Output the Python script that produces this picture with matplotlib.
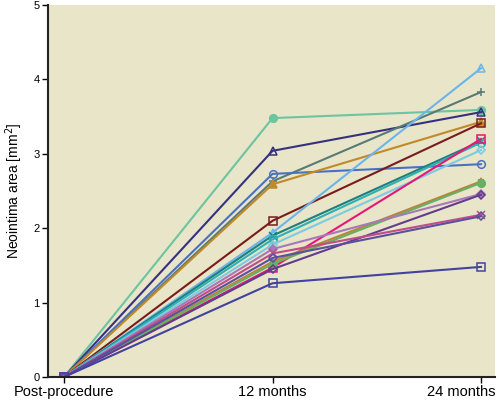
import matplotlib.pyplot as plt
from matplotlib import font_manager
from matplotlib.transforms import ScaledTranslation

# use a narrow face if one is there, else plain Liberation Sans
try:
    font_manager.findfont("Liberation Sans Narrow", fallback_to_default=False)
    plt.rcParams['font.family'] = ['Liberation Sans Narrow', 'DejaVu Sans']
    fs = 12
except ValueError:
    plt.rcParams['font.family'] = ['Liberation Sans', 'DejaVu Sans']
    fs = 10.5

timepoints = ["Post-procedure", "12 months", "24 months"]

# neointima area per patient: (post, 12 months, 24 months)
post = [0, 0, 0, 0, 0, 0, 0, 0, 0, 0, 0, 0, 0, 0, 0, 0, 0, 0]
month12 = [3.48, 3.04, 2.63, 2.73, 2.59, 2.10, 1.94, 1.90, 1.85, 1.78,
           1.47, 1.55, 1.52, 1.72, 1.45, 1.66, 1.60, 1.26]
month24 = [3.59, 3.56, 3.83, 2.86, 3.43, 3.41, 4.15, 3.17, 3.15, 3.05,
           3.20, 2.63, 2.61, 2.46, 2.45, 2.18, 2.16, 1.48]

colors = ["#6cc4a0", "#35307f", "#587a76", "#4a70c0", "#c08a28", "#781c1c",
          "#6ab6ea", "#1d7f80", "#2eb0b4", "#7ccbe2", "#e6177a", "#b8843c",
          "#66b064", "#a878b8", "#643c8c", "#c04c88", "#5a50a0", "#4242a0"]
markers = ["o", "^", "+", "o", "^", "s", "^", "x", "o", "D",
           "s", "*", "o", "D", "D", "x", "D", "s"]
filled = [True, False, True, False, True, False, False, True, False, False,
          False, True, True, True, False, True, False, False]

fig = plt.figure(figsize=(5.02, 4.01), dpi=100)
ax = fig.add_axes([48 / 502, 24 / 401, 447 / 502, 372 / 401])
ax.set_facecolor("#e9e5c9")

xs = range(len(timepoints))
for i in range(len(month12)):
    ys = [post[i], month12[i], month24[i]]
    ms = 5.5 if markers[i] not in ("D", "*") else 4.5
    ax.plot(xs, ys, color=colors[i], lw=1.5, marker=markers[i], ms=ms,
            mfc=colors[i] if filled[i] else "none", mec=colors[i], mew=1.1)

ax.set_xlim(-0.077, 2.067)
ax.set_ylim(0, 5)
ax.set_xticks(list(xs))
ax.set_xticklabels(timepoints, fontsize=fs)
ax.set_yticks(range(6))
ax.tick_params(axis="y", labelsize=fs - 2.5, length=4, width=1, pad=2)
ax.tick_params(axis="x", length=4, width=1, pad=2)
ax.set_ylabel("Neointima area [mm$^2$]", fontsize=fs - 0.5, labelpad=6)

# last label sits flush with the end of the axis, as in the original
last = ax.get_xticklabels()[-1]
last.set_ha("right")
last.set_transform(last.get_transform() + ScaledTranslation(14 / 100, 0, fig.dpi_scale_trans))

for side in ("top", "right"):
    ax.spines[side].set_visible(False)
for side in ("left", "bottom"):
    ax.spines[side].set_linewidth(1.5)
    ax.spines[side].set_color("#222222")

plt.savefig("out.png", dpi=100)
plt.close()
